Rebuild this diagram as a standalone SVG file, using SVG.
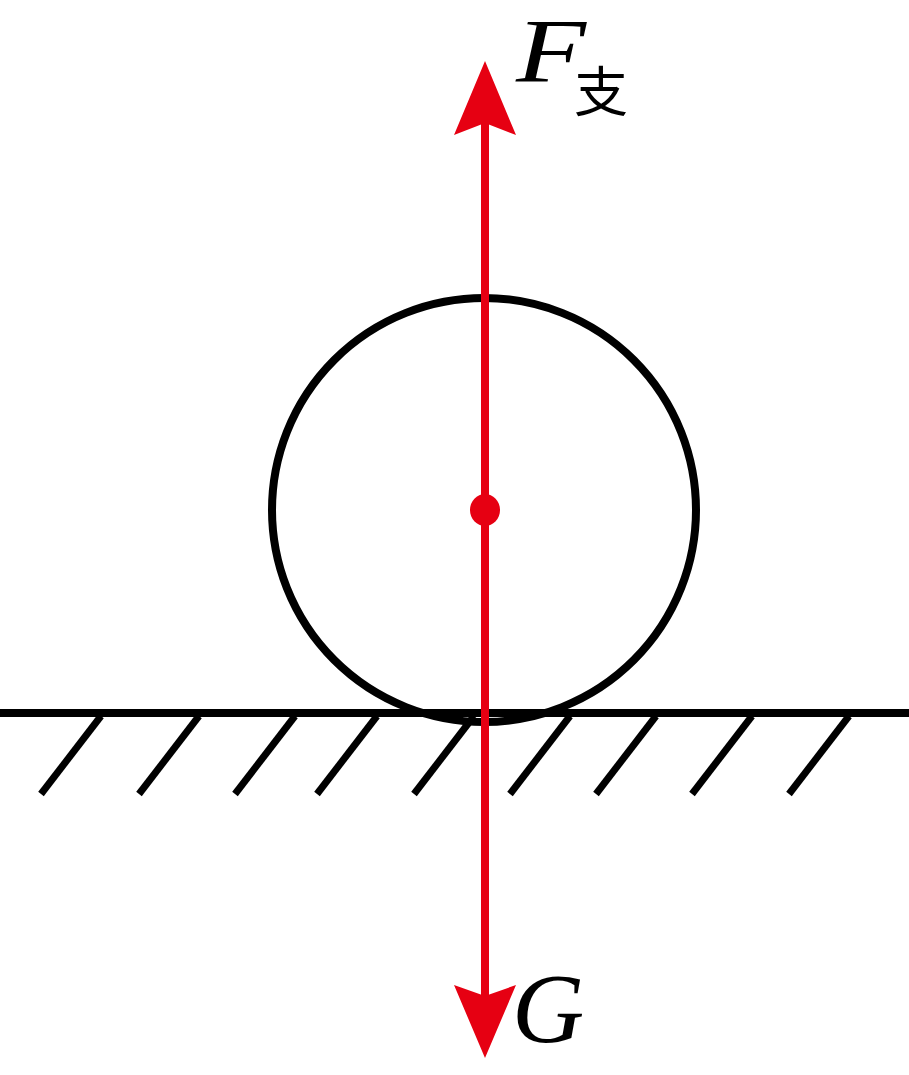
<svg xmlns="http://www.w3.org/2000/svg" width="909" height="1075" viewBox="0 0 909 1075">
<style>
.blk{stroke:#000;fill:none;stroke-width:8}
.hatch{stroke:#000;fill:none;stroke-width:7}
.force{stroke:#e60012;stroke-width:8;fill:none}
.head{fill:#e60012}
.lbl{font-family:"Liberation Serif","Times New Roman",serif;font-style:italic;fill:#000}
.cjk{font-family:"Noto Sans CJK SC",serif;fill:#000}
</style>
<rect width="909" height="1075" fill="#fff"/>
<g id="ground">
<line class="blk" x1="0" y1="713" x2="909" y2="713"/>
<line class="hatch" x1="101" y1="716" x2="41" y2="794"/>
<line class="hatch" x1="199" y1="716" x2="139" y2="794"/>
<line class="hatch" x1="295" y1="716" x2="235" y2="794"/>
<line class="hatch" x1="377" y1="716" x2="317" y2="794"/>
<line class="hatch" x1="474" y1="716" x2="414" y2="794"/>
<line class="hatch" x1="570" y1="716" x2="510" y2="794"/>
<line class="hatch" x1="656" y1="716" x2="596" y2="794"/>
<line class="hatch" x1="752" y1="716" x2="692" y2="794"/>
<line class="hatch" x1="849" y1="716" x2="789" y2="794"/>
</g>
<g id="ball">
<circle class="blk" cx="484" cy="510" r="212"/>
</g>
<g id="connectors">
<line class="force" x1="485" y1="120" x2="485" y2="998"/>
<polygon class="head" points="485,61 516,135 485,123 454,135"/>
<polygon class="head" points="485,1058 516,985 485,996 454,985"/>
</g>
<g id="center">
<ellipse class="head" cx="485" cy="510" rx="15" ry="16"/>
</g>
<g id="label-F">
<text class="lbl" x="516" y="82" font-size="92" textLength="70" lengthAdjust="spacingAndGlyphs">F</text>
<text class="cjk" x="574" y="112" font-size="54">支</text>
</g>
<g id="label-G">
<text class="lbl" x="512" y="1042" font-size="100">G</text>
</g>
</svg>
